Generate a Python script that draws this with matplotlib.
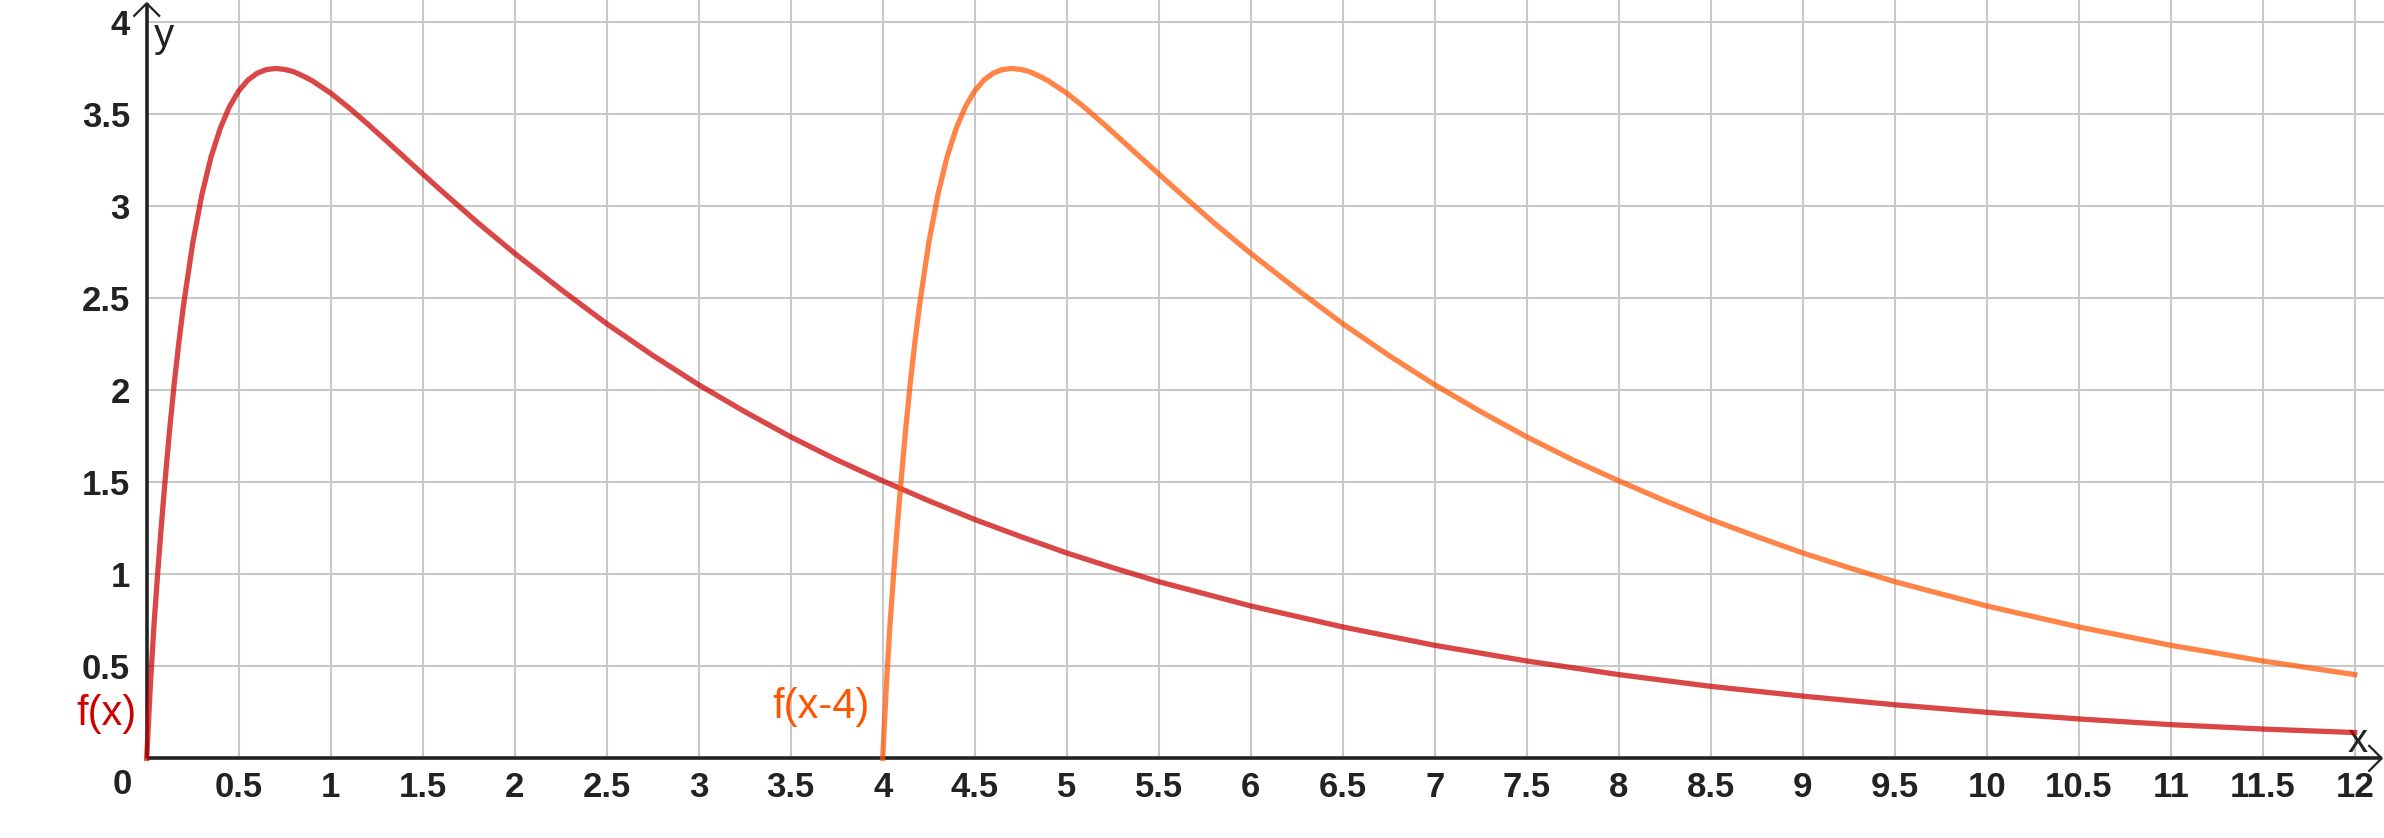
import matplotlib
matplotlib.use("Agg")
from matplotlib import pyplot as plt

plt.rcParams['font.family'] = ['Liberation Sans', 'DejaVu Sans']

# values of f
fx = [0, 0.02, 0.04, 0.06, 0.08, 0.1, 0.125, 0.15, 0.175, 0.2, 0.25,
      0.3, 0.35, 0.4, 0.45, 0.5, 0.55, 0.6, 0.65, 0.7, 0.75, 0.8, 0.85,
      0.9, 1.0, 1.1, 1.2, 1.3, 1.4, 1.5, 1.6, 1.8, 2.0, 2.25, 2.5, 2.75,
      3.0, 3.25, 3.5, 3.75, 4.0, 4.25, 4.5, 4.75, 5.0, 5.25, 5.5, 6.0,
      6.5, 7.0, 7.5, 8.0, 8.5, 9.0, 9.5, 10.0, 10.5, 11.0, 11.5, 12.0]
fy = [0, 0.40, 0.73, 1.01, 1.27, 1.51, 1.79, 2.04, 2.262, 2.462, 2.799,
      3.064, 3.269, 3.425, 3.542, 3.627, 3.686, 3.723, 3.743, 3.749, 3.744, 3.731, 3.708,
      3.682, 3.615, 3.535, 3.448, 3.358, 3.267, 3.176, 3.086, 2.91, 2.744, 2.549, 2.362, 2.19,
      2.03, 1.884, 1.747, 1.622, 1.508, 1.40, 1.298, 1.205, 1.116, 1.036, 0.96, 0.828,
      0.714, 0.614, 0.529, 0.455, 0.391, 0.338, 0.291, 0.25, 0.214, 0.183, 0.159, 0.14]
shift = 4
x_end = 12

xticks = [0.5 * i for i in range(1, 25)]
yticks = [0.5 * i for i in range(1, 9)]

red = '#cc0000'
orange = '#ff5500'
dark = '#222222'

W, H = 2384, 838
fig = plt.figure(figsize=(W / 100, H / 100), dpi=100)
x0, y0, unit = 146.7, 758.3, 184.0
ax = fig.add_axes([x0 / W, (H - y0) / H, 1 - x0 / W, y0 / H])
ax.set_xlim(0, (W - x0) / unit)
ax.set_ylim(0, y0 / unit)

for s in ax.spines.values():
    s.set_visible(False)

ax.set_xticks(xticks)
ax.set_xticklabels(['%g' % t for t in xticks])
ax.set_yticks(yticks)
ax.set_yticklabels(['%g' % t for t in yticks])
ax.tick_params(length=0, labelsize=25, colors=dark)
ax.tick_params(axis='x', pad=9)
ax.tick_params(axis='y', pad=12)
for lab in ax.get_xticklabels() + ax.get_yticklabels():
    lab.set_fontweight('bold')
ax.grid(True, color='#c8c8c8', linewidth=1.5)
ax.set_axisbelow(True)

# axes with arrows
xt, yt = (2381.7 - x0) / unit, (y0 - 3.3) / unit
a = 12.5 / unit
ax.plot([0, xt], [0, 0], color=dark, lw=2.6, clip_on=False, zorder=3, solid_capstyle='butt')
ax.plot([0, 0], [0, yt], color=dark, lw=2.6, clip_on=False, zorder=3, solid_capstyle='butt')
ax.plot([xt - a, xt, xt - a], [a, 0, -a], color=dark, lw=1.6, clip_on=False, zorder=3)
ax.plot([-a, 0, a], [yt - a, yt, yt - a], color=dark, lw=1.6, clip_on=False, zorder=3)
ax.text(0.04, 3.866, 'y', fontsize=29, color=dark, ha='left', va='baseline')
ax.text(12.018, 0.034, 'x', fontsize=29, color=dark, ha='center', va='baseline')
ax.text(-0.134, -0.145, '0', fontsize=25, fontweight='bold', color=dark,
        ha='center', va='center')

# curves
rx = [x for x in fx if x <= x_end]
ry = fy[:len(rx)]
ox = [x + shift for x in fx if x + shift <= x_end]
oy = fy[:len(ox)]
ax.plot(rx, ry, color=red, alpha=0.72, lw=3.8, zorder=4, clip_on=False,
        solid_joinstyle='round')
ax.plot(ox, oy, color=orange, alpha=0.72, lw=3.8, zorder=5, clip_on=False,
        solid_joinstyle='round')

ax.text(-0.053, 0.18, 'f(x)', fontsize=30, color=red, ha='right', va='baseline')
ax.text(3.931, 0.22, 'f(x-4)', fontsize=30, color=orange, ha='right', va='baseline')

fig.savefig('out.png', dpi=100)
